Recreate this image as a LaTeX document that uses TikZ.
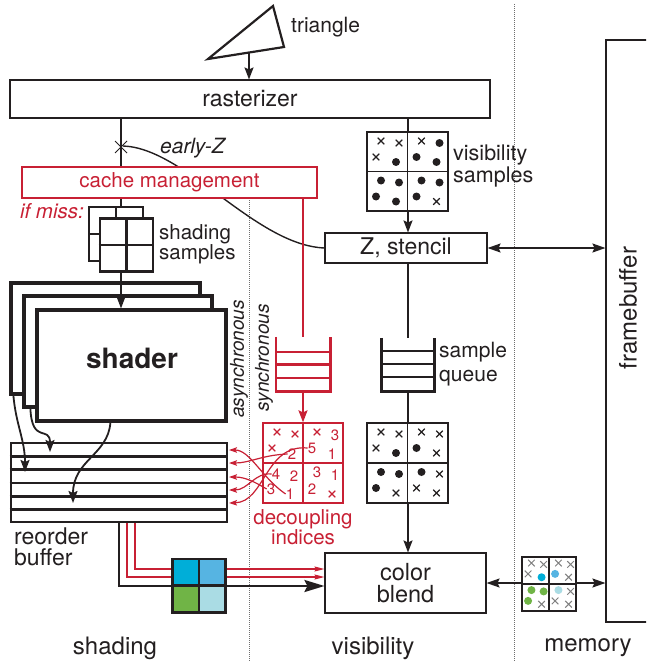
\documentclass[tikz,border=0pt]{standalone}
\usepackage{fontspec}
\setmainfont{TeX Gyre Heros}
\usetikzlibrary{arrows.meta}
\definecolor{ink}{RGB}{35,31,32}
\definecolor{myred}{RGB}{200,32,52}
\definecolor{cA}{RGB}{0,174,216}
\definecolor{cB}{RGB}{86,180,226}
\definecolor{cC}{RGB}{112,180,70}
\definecolor{cD}{RGB}{170,220,228}
\definecolor{dotgray}{RGB}{110,110,110}
\newcommand\fsz[2]{\fontsize{#1}{#2}\selectfont}
\newcommand\cellmarks[5]{%
  \begin{scope}[shift={#1}]
    \pic at (14,9) {#2}; \pic at (32,11) {#3}; \pic at (9,25) {#4}; \pic at (29,30) {#5};
  \end{scope}}
\begin{document}
\begin{tikzpicture}[x=1pt,y=-1pt,color=ink,
  lbl/.style={inner sep=0pt, text=ink, font=\fsz{20.5}{17}},
  num/.style={inner sep=0pt, text=myred, font=\fsz{15}{15}},
  tbox/.style={draw=ink, line width=1.1pt, fill=white, inner sep=0pt, text=ink, font=\fsz{20}{17}},
  shbox/.style={draw=ink, line width=3.2pt, fill=white, inner sep=0pt},
  ln/.style={draw=ink, line width=1.4pt},
  rl/.style={draw=myred, line width=1.2pt},
  tip/.style={-{Stealth[length=12pt,width=9pt,inset=2pt]}},
  dtip/.style={{Stealth[length=13pt,width=9pt,inset=2pt]}-{Stealth[length=13pt,width=9pt,inset=2pt]}},
  rtip/.style={-{Stealth[length=8pt,width=5.5pt,inset=1.5pt]}},
  dotline/.style={draw=dotgray, line width=0.9pt, dash pattern=on 0.9pt off 1.1pt},
  gthin/.style={draw=ink, line width=1.2pt},
  gthick/.style={draw=ink, line width=2.6pt},
  xm/.pic={\draw[line width=1.1pt] (-3.3,-3.3)--(3.3,3.3) (-3.3,3.3)--(3.3,-3.3);},
  xg/.pic={\draw[gray, line width=1pt] (-3.3,-3.3)--(3.3,3.3) (-3.3,3.3)--(3.3,-3.3);},
  dt/.pic={\fill[ink] (0,0) circle (4pt);},
  dA/.pic={\fill[cA] (0,0) circle (4pt);},
  dB/.pic={\fill[cB] (0,0) circle (4pt);},
  dC/.pic={\fill[cC] (0,0) circle (4pt);},
  dD/.pic={\fill[cD] (0,0) circle (4pt);},
]
\useasboundingbox (0,0) rectangle (646,661);
\clip (0,0) rectangle (646,661);

% separators
\coordinate (sepA1) at (249,198); \coordinate (sepA2) at (249,661);
\coordinate (sepB1) at (514,4); \coordinate (sepB2) at (514,661);
\draw[dotline] (sepA1) -- (sepA2);
\draw[dotline] (sepB1) -- (sepB2);

% main boxes
\node[tbox, minimum width=162, minimum height=30, font=\fsz{23}{20}] (zst) at (406,248) {Z, stencil};
\node[draw=ink, line width=1.1pt, minimum width=80, minimum height=582, inner sep=0pt] (fb) at (646,331) {};
\node[lbl, rotate=90, font=\fsz{24}{24}] (fbl) at (628,308) {framebuffer};
\node[tbox, minimum width=161, minimum height=60, align=center, font=\fsz{23.5}{22}] (cblend) at (405.5,583) {color\\blend};

% triangle + rasterizer
\node[tbox, minimum width=480, minimum height=38, font=\fsz{23}{17}] (rast) at (250,99) {rasterizer};
\draw[ink, line width=2.2pt, line join=miter] (208,59) -- (273,6) -- (284,47) -- cycle;
\coordinate (tb) at (249,52.5);
\draw[ln, tip] (tb) -- (tb |- rast.north);
\node[lbl, anchor=west, font=\fsz{21}{17}] (tril) at (291,27) {triangle};

% early-Z path and main line
\coordinate (cross) at (121,147);
\draw[ln] (rast.south -| cross) -- (121,272);
\draw[ln] (123,146) .. controls (185,148) and (255,245) .. (zst.west);
\draw[ink, line width=1pt] (cross) ++(-6,-6) -- ++(12,12) ++(0,-12) -- ++(-12,12);
\node[lbl, anchor=west, font=\fsz{21}{17}\itshape] (ezl) at (160,148) {early-Z};

% cache management
\node[tbox, draw=myred, text=myred, minimum width=295, minimum height=31, font=\fsz{20.5}{17}] (cache) at (169.5,182.5) {cache management};
\node[lbl, anchor=east, text=myred, font=\fsz{20.5}{17}\itshape] (ifm) at (84,211) {if miss:};

% shading samples grids
\draw[gthick, fill=white] (89,207) rectangle (143,261);
\draw[gthick] (116,207) -- (116,261) (89,234) -- (143,234);
\node[draw=ink, line width=2.6pt, fill=white, minimum size=53, inner sep=0pt] (ssg) at (126.5,245) {};
\draw[gthick] (ssg.north) -- (ssg.south) (ssg.west) -- (ssg.east);
\node[lbl, anchor=west, align=left] (ssl) at (159,244) {shading\\samples};

% shaders
\node[shbox, minimum width=189, minimum height=111] (shB) at (105.5,338.5) {};
\node[shbox, minimum width=188, minimum height=111] (shM) at (118,351.5) {};
\node[shbox, minimum width=189, minimum height=111] (shF) at (131.5,365.5) {};
\draw[ln, tip] (ssg.south -| cross) -- (shF.north -| cross);
\node[lbl, font=\fsz{28}{28}\bfseries] (shl) at (132,358) {shader};

\node[lbl, rotate=90, font=\fsz{19}{19}\itshape] (asl) at (239,359) {asynchronous};
\node[lbl, rotate=90, font=\fsz{19}{19}\itshape] (syl) at (264,358) {synchronous};

% reorder buffer
\node[draw=ink, line width=2.6pt, fill=white, minimum width=216, minimum height=79, inner sep=0pt] (rb) at (119,482.5) {};
\foreach \yy in {456.5,469.5,483,496.5,509.5} \draw[gthick] (rb.west |- 0,\yy) -- (rb.east |- 0,\yy);
\node[lbl, anchor=west, align=left, font=\fsz{23}{21}] (rbl) at (14,547) {reorder\\buffer};

\draw[ln, line width=1.8pt, tip] ([xshift=4]shB.south west) .. controls (16,425) and (25,440) .. (25,472);
\draw[ln, line width=1.8pt, tip] ([xshift=8]shM.south west) .. controls (32,445) and (50,425) .. (50,452);
\draw[ln, line width=1.8pt, tip] ([xshift=75]shF.south west) .. controls (108,455) and (73,460) .. (73,503);

% red queue and decoupling grid
\node[minimum width=54, minimum height=54, inner sep=0pt] (rq) at (303,364) {};
\draw[rl, line width=1.6pt] (cache.south -| rq) -- (rq.north);
\draw[myred, line width=2.6pt] (rq.north west) -- (rq.south west) -- (rq.south east) -- (rq.north east);
\foreach \yy in {352,364.5,378} \draw[myred, line width=2.6pt] (rq.west |- 0,\yy) -- (rq.east |- 0,\yy);
\node[draw=myred, line width=1.3pt, minimum size=80, inner sep=0pt] (dg) at (303,463) {};
\draw[myred, line width=1.3pt] (dg.north) -- (dg.south) (dg.west) -- (dg.east);
\draw[rl, line width=1.6pt, -{Stealth[length=12pt,width=9pt,inset=2pt]}] (rq.south) -- (dg.north);

\pic[myred] at (277,432) {xm}; \pic[myred] at (295,434) {xm}; \pic[myred] at (272,448) {xm};
\node[num] (i2) at (292,454) {2};
\pic[myred] at (317,432) {xm};
\node[num] (k3) at (335,435) {3};
\node[num] (i5) at (312,448) {5};
\node[num] (k1) at (332,454) {1};
\node[num] (i4) at (276,474) {4};
\node[num] (k2) at (294,476) {2};
\node[num] (i3) at (271,489) {3};
\node[num] (i1) at (290,494) {1};
\node[num] (m3) at (317,472) {3};
\node[num] (m1) at (335,475) {1};
\node[num] (m2) at (312,489) {2};
\pic[myred] at (332,494) {xm};
\node[lbl, text=myred, align=center] (dil) at (303,527) {decoupling\\indices};

\coordinate (r1) at (229,450); \coordinate (r2) at (229,463); \coordinate (r3) at (229,477);
\coordinate (r4) at (229,490); \coordinate (r5) at (229,503);
\draw[rl, rtip] (i1.west) .. controls (262,478) and (250,450) .. (r1);
\draw[rl, rtip] (i2.west) .. controls (262,455) and (250,463) .. (r2);
\draw[rl, rtip] (i3.west) .. controls (255,482) and (245,477) .. (r3);
\draw[rl, rtip] (i4.west) .. controls (255,472) and (248,490) .. (r4);
\draw[rl, rtip] (i5.west) .. controls (265,444) and (265,502) .. (r5);

% visibility path
\node[minimum width=53, minimum height=53, inner sep=0pt] (bq) at (408,364.5) {};
\draw[ln, tip] (rast.south -| bq) -- (zst.north -| bq);
\draw[ln] (zst.south -| bq) -- (bq.north);
\draw[ln, tip] (bq.south) -- (cblend.north -| bq);
\draw[ink, line width=2.6pt] (bq.north west) -- (bq.south west) -- (bq.south east) -- (bq.north east);
\foreach \yy in {351,364,377} \draw[gthick] (bq.west |- 0,\yy) -- (bq.east |- 0,\yy);
\node[lbl, anchor=west, align=left, font=\fsz{21}{24}] (sql) at (439,364) {sample\\queue};

\node[draw=ink, line width=1.2pt, fill=white, minimum width=81, minimum height=79, inner sep=0pt] (vg) at (407.5,171.5) {};
\draw[gthin] (vg.north) -- (vg.south) (vg.west) -- (vg.east);
\cellmarks{(367,132)}{xm}{xm}{xm}{dt}
\cellmarks{(407.5,132)}{xm}{dt}{dt}{dt}
\cellmarks{(367,171.5)}{dt}{dt}{dt}{dt}
\cellmarks{(407.5,171.5)}{dt}{dt}{dt}{xm}
\node[lbl, anchor=west, align=left, font=\fsz{21.5}{17}] (vsl) at (453,166) {visibility\\samples};

\node[draw=ink, line width=1.2pt, fill=white, minimum width=81, minimum height=80, inner sep=0pt] (sg) at (407.5,463) {};
\draw[gthin] (sg.north) -- (sg.south) (sg.west) -- (sg.east);
\cellmarks{(367,423)}{xm}{xm}{xm}{dt}
\cellmarks{(407.5,423)}{xm}{xm}{dt}{xm}
\cellmarks{(367,463)}{dt}{dt}{dt}{xm}
\cellmarks{(407.5,463)}{dt}{xm}{xm}{xm}

% framebuffer connections
\draw[ln, dtip] (zst.east) -- (zst.east -| fb.west);
\draw[ln, dtip] (cblend.east) -- (cblend.east -| fb.west);
\node[draw=ink, line width=1.3pt, fill=white, minimum size=54, inner sep=0pt] (mg) at (549,584) {};
\draw[ink, line width=1.3pt] (mg.north) -- (mg.south) (mg.west) -- (mg.east);
\begin{scope}[shift={(522,557)}, scale=0.675]
\cellmarks{(0,0)}{xg}{xg}{xg}{dA}
\cellmarks{(40,0)}{xg}{xg}{dB}{xg}
\cellmarks{(0,40)}{dC}{dC}{dC}{xg}
\cellmarks{(40,40)}{dD}{xg}{xg}{xg}
\end{scope}

% reorder outputs
\draw[ink, line width=2.6pt, -{Stealth[length=20pt,width=12pt,inset=3pt]}] (rb.south -| 119,0) |- (cblend.west |- 0,586);
\draw[rl, -{Stealth[length=10pt,width=5pt,inset=1.5pt]}] (rb.south -| 127,0) |- (cblend.west |- 0,577);
\draw[rl, -{Stealth[length=10pt,width=5pt,inset=1.5pt]}] (rb.south -| 135,0) |- (cblend.west |- 0,569);
\node[minimum size=53, inner sep=0pt] (pix) at (199,585.5) {};
\fill[cA] (pix.north west) rectangle (pix.center);
\fill[cB] (pix.north) rectangle (pix.east);
\fill[cC] (pix.west) rectangle (pix.south);
\fill[cD] (pix.center) rectangle (pix.south east);
\draw[gthick] (pix.north west) rectangle (pix.south east) (pix.north) -- (pix.south) (pix.west) -- (pix.east);

% bottom labels
\node[lbl, font=\fsz{24}{24}] (bl1) at (115,648) {shading};
\node[lbl, font=\fsz{24}{24}] (bl2) at (373,648) {visibility};
\node[lbl, font=\fsz{24}{24}] (bl3) at (588,648) {memory};
\end{tikzpicture}
\end{document}
